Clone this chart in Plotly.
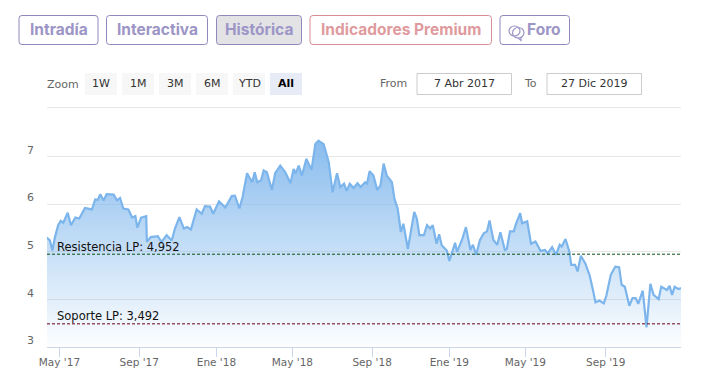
import datetime as dt
import plotly.graph_objects as go

W, H = 702, 383

dates_raw = """170411 170416 170420 170424 170429 170503 170507 170514 170519 170526 170601 170610 170621 170626 170630 170704 170709 170714 170725 170730 170804 170809 170817 170823 170828 170831 170906 170914 170915 170921 171002 171008 171016 171024 171029 171105 171112 171117 171123 171202 171210 171215 171223
171228 180106 180116 180126 180131 180207 180212 180219 180227 180303 180307 180313 180317 180322 180330 180404 180412 180420 180428 180503 180506 180511 180516 180523 180531 180606 180611 180619 180623 180627 180703 180710 180715 180721 180725 180730 180805 180811 180816 180823 180826 180830 180905 180911 180916 180921 180926 181004 181008 181013 181018 181022 181029 181103 181108 181112 181116 181123 181128 181203 181207 181213 181217 181221 181229 190102 190111 190114 190122 190128 190204 190208 190213 190219 190225 190302 190306 190312 190318 190323 190330 190402 190407 190413 190416 190423 190426 190504 190510 190517 190525 190601 190605 190612 190618 190624 190627 190703 190709 190712 190718 190722 190727 190803 190810 190815 190819 190825 190901 190905 190912 190919 190925 190929 191004 191011 191016 191021 191025 191101 191107 191113 191118 191126 191130 191209 191213 191217 191221 191227 191231"""
values = [5.3,5.24,5.03,5.31,5.56,5.65,5.61,5.82,5.56,5.72,5.7,5.92,5.89,6.1,6.09,6.21,6.08,6.21,6.2,6.08,6.13,5.91,5.89,5.72,5.75,5.51,5.72,5.75,5.21,5.31,5.33,5.21,5.35,5.24,5.49,5.73,5.49,5.52,5.47,5.89,5.8,5.96,5.95,5.8,6.06,5.93,6.17,6.18,5.91,6.15,6.65,6.46,6.67,6.46,6.5,6.71,6.67,6.3,6.65,6.81,6.67,6.44,6.74,6.64,6.81,6.6,6.95,6.72,7.26,7.33,7.26,7.09,6.88,6.25,6.65,6.36,6.43,6.28,6.43,6.34,6.44,6.36,6.46,6.43,6.69,6.6,6.3,6.39,6.85,6.6,6.46,6.11,5.91,5.42,5.59,5.06,5.45,5.84,5.7,5.35,5.35,5.56,5.49,5.56,5.17,5.37,5.14,5.03,4.81,5.19,5.0,5.26,5.52,5.04,5.15,4.94,5.25,5.39,5.43,5.66,5.25,5.15,5.41,5.04,5.06,5.43,5.43,5.57,5.81,5.6,5.64,5.17,5.22,5.02,5.04,4.97,5.1,4.94,5.15,5.11,5.27,5.01,4.73,4.73,4.59,4.92,4.76,4.5,4.2,3.94,3.98,3.92,4.08,4.52,4.69,4.68,4.31,4.27,3.87,4.03,4.03,3.91,4.19,3.42,4.33,4.1,4.01,4.27,4.2,4.29,4.1,4.27,4.22,4.24]
dates = [dt.datetime.strptime(s, "%y%m%d").strftime("%Y-%m-%d") for s in dates_raw.split()]
n = min(len(dates), len(values))
dates, values = dates[:n], values[:n]

tick_dates = ["2017-05-01","2017-09-03","2018-01-02","2018-05-01","2018-09-03","2019-01-02","2019-05-01","2019-09-04"]
tick_labels = ["May '17","Sep '17","Ene '18","May '18","Sep '18","Ene '19","May '19","Sep '19"]
y_ticks = [3,4,5,6,7]
resistance = 4.952
support = 3.492
tabs = [("Intradía",19,98,"p",False),("Interactiva",106.5,207.5,"p",False),("Histórica",216.5,301.5,"p",True),("Indicadores Premium",310,491.5,"r",False),("Foro",500,569.5,"p",False)]
zoom_buttons = [("1W",85),("1M",122),("3M",159),("6M",196),("YTD",233),("All",270)]

FONT = "DejaVu Sans"
TAB_FONT = "Inter"
px = lambda x: x / W
py = lambda y: 1 - y / H

shapes, ann = [], []

def rrect(x0, y0, x1, y1, r, line, fill="rgba(0,0,0,0)", width=1):
    p = (f"M{px(x0+r)},{py(y0)} L{px(x1-r)},{py(y0)} Q{px(x1)},{py(y0)} {px(x1)},{py(y0+r)} "
         f"L{px(x1)},{py(y1-r)} Q{px(x1)},{py(y1)} {px(x1-r)},{py(y1)} L{px(x0+r)},{py(y1)} "
         f"Q{px(x0)},{py(y1)} {px(x0)},{py(y1-r)} L{px(x0)},{py(y0+r)} Q{px(x0)},{py(y0)} {px(x0+r)},{py(y0)} Z")
    shapes.append(dict(type="path", xref="paper", yref="paper", path=p, line=dict(color=line, width=width), fillcolor=fill, layer="below"))

def text(t, x, y, size, color, anchor="center", family=FONT, weight=None):
    f = dict(family=family, size=size, color=color)
    if weight:
        f["weight"] = weight
    ann.append(dict(text=t, x=px(x), y=py(y), xref="paper", yref="paper", xanchor=anchor, yanchor="middle", showarrow=False, font=f, borderpad=0))

PURPLE = "#9c95c6"; RED = "#df9a9e"
for name, x0, x1, c, active in tabs:
    rrect(x0, 15.5, x1, 44.5, 3, "#8f88bd" if c == "p" else "#d98c91", "#e3e3e6" if active else "rgba(0,0,0,0)")
    tx = (x0 + x1) / 2 + (9 if name == "Foro" else 0)
    text(name, tx, 30, 15.5, PURPLE if c == "p" else RED, family=TAB_FONT, weight=700)

# Foro icon: two speech bubbles
shapes.append(dict(type="circle", xref="paper", yref="paper", x0=px(509), x1=px(520), y0=py(36), y1=py(26), line=dict(color=PURPLE, width=1.2), layer="above"))
shapes.append(dict(type="circle", xref="paper", yref="paper", x0=px(512.5), x1=px(524), y0=py(38), y1=py(27.5), line=dict(color=PURPLE, width=1.2), layer="above"))
shapes.append(dict(type="path", xref="paper", yref="paper", path=f"M{px(518)},{py(38)} L{px(521)},{py(40.5)} L{px(521)},{py(37)}", line=dict(color=PURPLE, width=1.2), layer="above"))

text("Zoom", 46, 84, 11, "#666666", "left")
for lab, x0 in zoom_buttons:
    sel = lab == "All"
    shapes.append(dict(type="rect", xref="paper", yref="paper", x0=px(x0), x1=px(x0+32), y0=py(95), y1=py(73),
                       line=dict(width=0), fillcolor="#e6ebf5" if sel else "#f7f7f7", layer="below"))
    text(lab, x0 + 16, 83.5, 11, "#000000" if sel else "#333333", weight=700 if sel else None)

text("From", 379, 83.5, 11, "#666666", "left")
text("To", 523, 83.5, 11, "#666666", "left")
for lab, x0, x1 in [("7 Abr 2017", 417, 511.5), ("27 Dic 2019", 547, 641.5)]:
    shapes.append(dict(type="rect", xref="paper", yref="paper", x0=px(x0), x1=px(x1), y0=py(94.5), y1=py(73.5),
                       line=dict(color="#cccccc", width=1), fillcolor="white", layer="below"))
    text(lab, (x0 + x1) / 2, 83.5, 11, "#333333")
shapes.append(dict(type="line", xref="paper", yref="paper", x0=px(47), x1=px(681), y0=py(107.5), y1=py(107.5), line=dict(color="#e6e6e6", width=1), layer="below"))

# level lines
for val, col in [(resistance, "#064d14"), (support, "#6b0010")]:
    shapes.append(dict(type="line", xref="paper", yref="y", x0=px(47), x1=px(681), y0=val, y1=val, line=dict(color=col, width=1, dash="3px,2px"), layer="above"))
text(f"Resistencia LP: {resistance:.3f}".replace(".", ","), 56, 247, 11.5, "#111111", "left")
text(f"Soporte LP: {support:.3f}".replace(".", ","), 56, 315.5, 11.5, "#111111", "left")

for v in y_ticks:
    ann.append(dict(text=str(v), x=px(24.5), xref="paper", xanchor="left", y=v, yref="y", yanchor="middle", yshift=6.5, showarrow=False, font=dict(family=FONT, size=11, color="#666666")))

fig = go.Figure(go.Scatter(
    x=dates, y=values, mode="lines", fill="tozeroy",
    line=dict(color="#7cb5ec", width=2.2),
    fillgradient=dict(type="vertical", start=3, stop=max(values),
                      colorscale=[[0, "rgba(124,181,236,0.02)"], [1, "rgba(124,181,236,0.9)"]]),
    hoverinfo="skip", showlegend=False))

fig.update_layout(
    width=W, height=H, margin=dict(l=0, r=0, t=0, b=0, autoexpand=False),
    paper_bgcolor="white", plot_bgcolor="white", showlegend=False,
    shapes=shapes, annotations=ann,
    xaxis=dict(domain=[px(47), px(681)], range=["2017-04-11 12:00", "2019-12-31"], type="date",
               tickmode="array", tickvals=tick_dates, ticktext=tick_labels,
               ticks="outside", ticklen=9, tickcolor="#ccd6eb", tickwidth=1, ticklabelstandoff=-4,
               showgrid=False, showline=True, linecolor="#ccd6eb", linewidth=1, zeroline=False,
               tickfont=dict(family=FONT, size=10.5, color="#666666")),
    yaxis=dict(domain=[1 - 347.3 / H, 1 - 132.65 / H], range=[3, 7.5], tickmode="array", tickvals=y_ticks,
               showticklabels=False, ticks="", showgrid=True, gridcolor="#e6e6e6", gridwidth=1, zeroline=False, showline=False),
)
fig.write_html("out.html", config=dict(displayModeBar=False), post_script="document.body.style.margin='0';document.body.style.overflow='hidden';")
